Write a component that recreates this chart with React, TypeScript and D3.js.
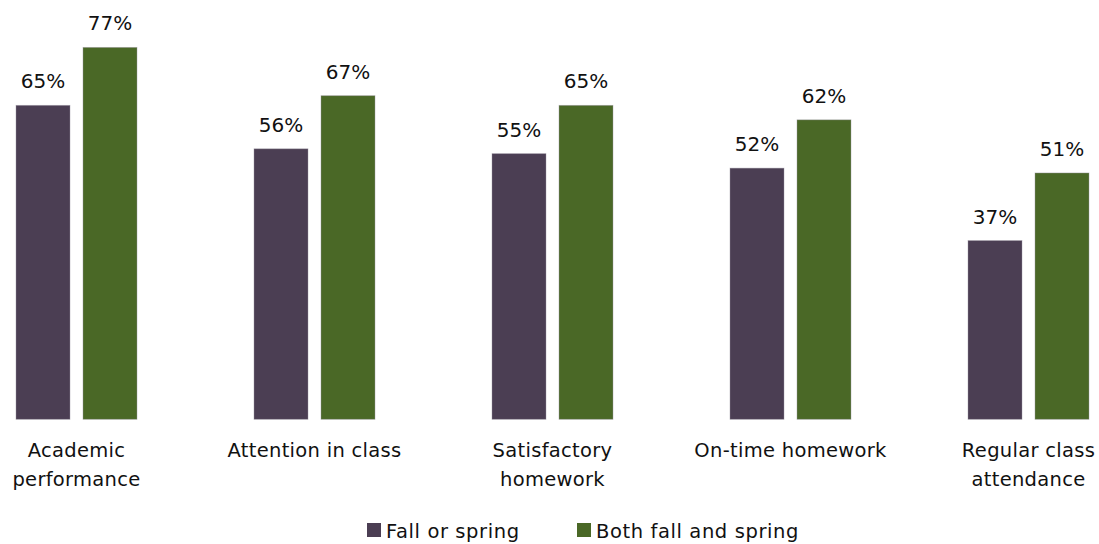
import React from 'react';
import * as d3 from 'd3';

const categories = [
  'Academic performance',
  'Attention in class',
  'Satisfactory homework',
  'On-time homework',
  'Regular class attendance',
];
const categoryLines = [
  ['Academic', 'performance'],
  ['Attention in class'],
  ['Satisfactory', 'homework'],
  ['On-time homework'],
  ['Regular class', 'attendance'],
];
const seriesNames = ['Fall or spring', 'Both fall and spring'];
const fallOrSpring = [65, 56, 55, 52, 37];
const bothFallSpring = [77, 67, 65, 62, 51];
const colors = ['#4b3e53', '#4a6826'];

const W = 1099;
const H = 544;
const FONT = "'DejaVu Sans', sans-serif";

export default function App() {
  const baseline = 419.3;
  const x = d3.scaleBand<string>()
    .domain(categories)
    .range([-42.5, -42.5 + 238 * categories.length])
    .paddingInner(0.4916)
    .paddingOuter(0.2458);
  const sub = d3.scaleBand<number>()
    .domain([0, 1])
    .range([0, x.bandwidth()])
    .paddingInner(0.194);
  const y = d3.scaleLinear().domain([0, 100]).range([baseline, baseline - 483]);

  const series = [fallOrSpring, bothFallSpring];

  return (
    <svg width={W} height={H} style={{ display: 'block', position: 'absolute', left: 0, top: 0 }}
      fontFamily={FONT}>
      <rect width={W} height={H} fill="#fff" />
      {categories.map((c, i) => (
        <g key={c} transform={`translate(${x(c)},0)`}>
          {series.map((s, k) => (
            <g key={k}>
              <rect
                x={sub(k)}
                y={y(s[i])}
                width={sub.bandwidth()}
                height={baseline - y(s[i])}
                fill={colors[k]}
                stroke="#9a93a0"
                strokeOpacity={0.5}
                strokeWidth={0.8}
              />
              <text
                x={(sub(k) as number) + sub.bandwidth() / 2}
                y={y(s[i]) - 17}
                textAnchor="middle"
                fontSize={20}
                fill="#111"
              >
                {`${s[i]}%`}
              </text>
            </g>
          ))}
          {categoryLines[i].map((ln, j) => (
            <text
              key={j}
              x={x.bandwidth() / 2}
              y={457 + j * 29}
              textAnchor="middle"
              fontSize={19.5}
              letterSpacing={0.3}
              fill="#111"
            >
              {ln}
            </text>
          ))}
        </g>
      ))}
      <g>
        {seriesNames.map((n, k) => {
          const lx = [367, 577][k];
          return (
            <g key={n}>
              <rect x={lx} y={523} width={14} height={14} fill={colors[k]} />
              <text x={lx + 19} y={538} fontSize={19.5} letterSpacing={0.6} fill="#111">{n}</text>
            </g>
          );
        })}
      </g>
    </svg>
  );
}
